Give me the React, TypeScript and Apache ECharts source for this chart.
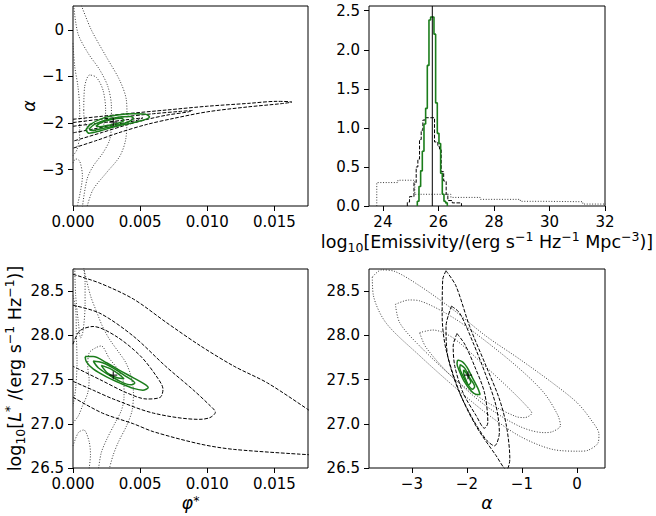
import React, { useEffect, useRef } from "react";
import * as echarts from "echarts";

const FONT = "DejaVu Sans";
const MINUS = "\u2212";

// ---------- tick values ----------
const phiTicks = [0, 0.005, 0.01, 0.015];
const alphaTicks = [-3, -2, -1, 0];
const lumTicks = [26.5, 27.0, 27.5, 28.0, 28.5];
const emisTicks = [24, 26, 28, 30, 32];
const densTicks = [0, 0.5, 1.0, 1.5, 2.0, 2.5];

// ---------- best-fit values ----------
const bestPhi = 0.003;
const bestAlpha = -1.98;
const bestLogL = 27.55;
const bestEmissivity = 25.78;

// ---------- histogram (top right) ----------
const dottedEdges = [23.78, 24.54, 25.15, 26.45, 27.5, 28.95, 29.75, 31.2, 32.6];
const dottedHeights = [0.3, 0.33, 0.15, 0.11, 0.085, 0.06, 0.055, 0.025];
const dashedEdges = [24.88, 24.96, 25.12, 25.2, 25.26, 25.32, 25.38, 25.44, 25.52, 25.86, 25.98, 26.04, 26.1, 26.19, 26.28, 26.34, 26.5, 26.83];
const dashedHeights = [0.05, 0.12, 0.3, 0.5, 0.6, 0.85, 0.97, 1.1, 1.13, 0.82, 0.76, 0.72, 0.44, 0.32, 0.15, 0.07, 0.04];
const greenEdges = [25.24, 25.3, 25.36, 25.42, 25.48, 25.54, 25.6, 25.66, 25.72, 25.78, 25.84, 25.9, 25.96, 26.02, 26.08, 26.14, 26.2, 26.26, 26.32];
const greenHeights = [0.06, 0.25, 0.45, 0.7, 1.05, 1.25, 1.8, 2.38, 2.42, 2.42, 2.2, 1.32, 0.93, 0.8, 0.42, 0.15, 0.06, 0.04];

// ---------- top left: phi* vs alpha ----------
const tlDot1 = [[0.000625, 0.52], [0.00137, -0.006], [0.00248, -0.58], [0.00347, -1.08], [0.00397, -1.5], [0.00402, -1.86], [0.00392, -2.36], [0.00347, -2.72], [0.00248, -3.07], [0.00149, -3.43], [0.00104, -3.8]];
const tlDot2 = [[0.00005, 0.52], [0.00037, -0.08], [0.00112, -0.5], [0.00199, -0.86], [0.0026, -1.22], [0.00286, -1.65], [0.00286, -2.0], [0.00273, -2.36], [0.00223, -2.64], [0.00149, -2.93], [0.00104, -3.21], [0.0007, -3.8]];
const tlDot3 = [[0.0008, -1.72], [0.00087, -1.22], [0.00124, -0.97], [0.00174, -1.02], [0.00223, -1.29], [0.00243, -1.72], [0.00223, -2.07], [0.00149, -2.17], [0.0009, -2.0], [0.0008, -1.72]];
const tlDot4 = [[0, -0.29], [0.00013, -0.79], [0.00037, -1.22], [0.0005, -1.72], [0.0005, -2.22], [0.0003, -2.57], [0, -2.7]];
const tlDot5 = [[0, -2.86], [0.0002, -2.77], [0.0005, -2.82], [0.0007, -3.14], [0.0003, -3.8]];
const tlDashOuter = [[0, -1.92], [0.002, -1.86], [0.004, -1.8], [0.007, -1.72], [0.01, -1.64], [0.013, -1.58], [0.0152, -1.535], [0.0163, -1.55], [0.0155, -1.585], [0.013, -1.655], [0.01, -1.76], [0.0075, -1.9], [0.0055, -2.03], [0.0035, -2.2], [0.0018, -2.37], [0, -2.54]];
const tlDashMid = [[0, -1.99], [0.002, -1.92], [0.004, -1.86], [0.006, -1.8], [0.008, -1.75], [0.0089, -1.73], [0.0086, -1.76], [0.007, -1.83], [0.0057, -1.91], [0.004, -2.04], [0.0022, -2.2], [0, -2.39]];
const tlDashInner = [[0, -2.07], [0.002, -2.0], [0.004, -1.93], [0.0052, -1.89], [0.0048, -1.94], [0.003, -2.04], [0.0015, -2.13], [0, -2.21]];
const tlGreenOuter = [[0.00095, -2.15], [0.0013, -2.03], [0.0022, -1.9], [0.0033, -1.83], [0.0045, -1.8], [0.0054, -1.81], [0.0057, -1.87], [0.0052, -1.94], [0.0042, -2.01], [0.0031, -2.08], [0.002, -2.17], [0.0012, -2.22], [0.00095, -2.15]];
const tlGreenMid = [[0.0012, -2.13], [0.0016, -2.03], [0.0025, -1.93], [0.0035, -1.87], [0.0043, -1.86], [0.0045, -1.9], [0.004, -1.99], [0.003, -2.07], [0.002, -2.13], [0.0014, -2.16], [0.0012, -2.13]];
const tlGreenInner = [[0.0017, -2.07], [0.0021, -1.99], [0.0028, -1.93], [0.0036, -1.9], [0.0038, -1.94], [0.0034, -2.0], [0.0026, -2.05], [0.002, -2.08], [0.0017, -2.07]];

// ---------- bottom left: phi* vs log L* ----------
const blDot1 = [[0.00013, 28.76], [0.0002, 28.45], [0.0004, 28.15], [0.00057, 27.97], [0.00075, 28.05], [0.0009, 28.35], [0.0009, 28.6], [0.0008, 28.76]];
const blDot2 = [[0, 28.45], [0.0002, 28.3], [0.00025, 28.0], [0.0003, 27.7], [0.0002, 27.4], [0, 27.2]];
const blDot3 = [[0, 27.01], [0.0004, 27.09], [0.0007, 27.2], [0.0011, 27.35], [0.0012, 27.5], [0.0011, 27.65], [0.0012, 27.8], [0.0017, 27.86], [0.0021, 27.88], [0.0027, 27.74], [0.0034, 27.6], [0.0038, 27.43], [0.0038, 27.3], [0.0036, 27.15], [0.0031, 27.0], [0.0025, 26.82], [0.0021, 26.67], [0.0019, 26.49]];
const blDot4 = [[0, 26.75], [0.0004, 26.9], [0.0008, 26.93], [0.0012, 26.8], [0.0013, 26.65], [0.0012, 26.49]];
const blDot5 = [[0.0008, 28.76], [0.0013, 28.45], [0.0018, 28.25], [0.0022, 28.1], [0.0027, 27.96], [0.0034, 27.81], [0.0039, 27.7], [0.0043, 27.55], [0.0045, 27.35], [0.0044, 27.15], [0.004, 26.98], [0.0034, 26.8], [0.003, 26.65], [0.0027, 26.49]];
const blDashOuterUpper = [[0, 28.69], [0.002, 28.59], [0.0045, 28.41], [0.007, 28.14], [0.0095, 27.88], [0.012, 27.65], [0.0145, 27.46], [0.0176, 27.15]];
const blDashOuterLower = [[0, 27.3], [0.0022, 27.12], [0.0045, 27.0], [0.006, 26.91], [0.0095, 26.77], [0.012, 26.71], [0.0176, 26.65]];
const blDashMid = [[0, 28.34], [0.002, 28.25], [0.0045, 27.99], [0.0069, 27.65], [0.0089, 27.39], [0.0101, 27.22], [0.0106, 27.13], [0.0102, 27.07], [0.0094, 27.05], [0.006, 27.12], [0.003, 27.28], [0.0015, 27.38], [0, 27.48]];
const blDashInner = [[0, 27.9], [0.0005, 28.05], [0.0015, 28.1], [0.0032, 27.99], [0.005, 27.77], [0.0062, 27.54], [0.0067, 27.39], [0.0065, 27.3], [0.0055, 27.28], [0.004, 27.35], [0.002, 27.5], [0, 27.65]];
const blGreenOuter = [[0.0009, 27.76], [0.0015, 27.76], [0.0025, 27.69], [0.0035, 27.6], [0.0045, 27.52], [0.0053, 27.45], [0.0056, 27.41], [0.0052, 27.38], [0.0045, 27.4], [0.0035, 27.46], [0.0025, 27.53], [0.0015, 27.62], [0.001, 27.7], [0.0009, 27.76]];
const blGreenMid = [[0.0015, 27.71], [0.0022, 27.69], [0.003, 27.63], [0.0038, 27.55], [0.0046, 27.46], [0.0043, 27.44], [0.0035, 27.48], [0.0027, 27.55], [0.0019, 27.63], [0.0015, 27.71]];
const blGreenInner = [[0.0021, 27.66], [0.0028, 27.62], [0.0035, 27.55], [0.0038, 27.51], [0.0033, 27.52], [0.0026, 27.57], [0.0021, 27.66]];

// ---------- bottom right: alpha vs log L* ----------
const brDotOuter = [[-3.72, 28.66], [-3.55, 28.74], [-3.3, 28.72], [-2.86, 28.56], [-2.25, 28.29], [-1.65, 27.99], [-1.04, 27.73], [-0.44, 27.46], [0.0, 27.24], [0.25, 27.05], [0.4, 26.88], [0.38, 26.78], [0.2, 26.7], [0.05, 26.69], [-0.44, 26.71], [-1.04, 26.86], [-1.65, 27.12], [-2.25, 27.43], [-2.86, 27.77], [-3.47, 28.14], [-3.7, 28.45], [-3.72, 28.66]];
const brDotMid = [[-3.3, 28.35], [-3.05, 28.4], [-2.86, 28.39], [-2.25, 28.2], [-1.65, 27.93], [-1.04, 27.62], [-0.6, 27.35], [-0.35, 27.1], [-0.3, 26.98], [-0.45, 26.91], [-0.6, 26.9], [-1.04, 26.97], [-1.65, 27.2], [-2.25, 27.52], [-2.86, 27.88], [-3.22, 28.14], [-3.3, 28.35]];
const brDotInner = [[-2.86, 28.03], [-2.62, 28.06], [-2.25, 27.97], [-1.65, 27.64], [-1.2, 27.38], [-0.9, 27.19], [-0.82, 27.12], [-0.95, 27.07], [-1.1, 27.08], [-1.65, 27.25], [-2.25, 27.52], [-2.74, 27.86], [-2.86, 28.03]];
const brDashOuter = [[-2.38, 28.73], [-2.44, 28.63], [-2.45, 28.22], [-2.38, 27.84], [-2.13, 27.35], [-1.83, 26.97], [-1.47, 26.64], [-1.28, 26.48], [-1.22, 26.6], [-1.28, 26.97], [-1.41, 27.28], [-1.65, 27.65], [-1.95, 28.1], [-2.2, 28.56], [-2.38, 28.73]];
const brDashMid = [[-2.28, 28.33], [-2.38, 28.1], [-2.35, 27.77], [-2.16, 27.39], [-1.89, 27.05], [-1.65, 26.82], [-1.5, 26.75], [-1.41, 26.9], [-1.47, 27.2], [-1.65, 27.54], [-1.89, 27.92], [-2.13, 28.25], [-2.28, 28.33]];
const brDashInner = [[-2.18, 28.02], [-2.25, 27.88], [-2.22, 27.65], [-2.07, 27.35], [-1.83, 27.09], [-1.68, 26.95], [-1.62, 27.01], [-1.68, 27.35], [-1.86, 27.65], [-2.04, 27.9], [-2.18, 28.02]];
const brGreenOuter = [[-2.17, 27.72], [-2.08, 27.7], [-2.0, 27.64], [-1.9, 27.52], [-1.8, 27.4], [-1.76, 27.33], [-1.82, 27.33], [-1.92, 27.37], [-2.05, 27.48], [-2.14, 27.6], [-2.18, 27.68], [-2.17, 27.72]];
const brGreenMid = [[-2.12, 27.67], [-2.04, 27.63], [-1.95, 27.52], [-1.86, 27.42], [-1.9, 27.39], [-1.99, 27.45], [-2.08, 27.55], [-2.13, 27.63], [-2.12, 27.67]];
const brGreenInner = [[-2.06, 27.61], [-2.0, 27.56], [-1.93, 27.47], [-1.97, 27.44], [-2.02, 27.5], [-2.06, 27.57], [-2.06, 27.61]];

// ---------- styles ----------
const DOT = { color: "#3a3a3a", width: 1, type: [1, 1.7] as number[] };
const DASH = { color: "#000", width: 1, type: [3.7, 1.6] as number[] };
const GREEN = { color: "#1b7d1b", width: 1.5, type: "solid" };

function line(data: number[][], g: number, style: any, z: number, smooth: number | boolean = 0.3) {
  return {
    type: "line",
    xAxisIndex: g,
    yAxisIndex: g,
    data,
    symbol: "none",
    showSymbol: false,
    smooth,
    silent: true,
    clip: true,
    z,
    lineStyle: style,
  };
}

function stepPoints(edges: number[], heights: number[]) {
  const pts: number[][] = [[edges[0], 0]];
  heights.forEach((h, i) => {
    pts.push([edges[i], h]);
    pts.push([edges[i + 1], h]);
  });
  pts.push([edges[edges.length - 1], 0]);
  return pts;
}

function plus(x: number, y: number, g: number) {
  return {
    type: "scatter",
    xAxisIndex: g,
    yAxisIndex: g,
    data: [[x, y]],
    symbol: "path://M5,0L5,10M0,5L10,5",
    symbolSize: 8,
    silent: true,
    z: 10,
    itemStyle: { color: "rgba(0,0,0,0)", borderColor: "#000", borderWidth: 1.3 },
  };
}

const fmtPhi = (v: number) => v.toFixed(3);
const fmtAlpha = (v: number) => (v < 0 ? MINUS + Math.abs(v) : String(v));
const fmt1 = (v: number) => v.toFixed(1);
const fmtInt = (v: number) => String(v);

const NAME_FS = 17.5;
const SUP_FS = 12.5;
const rich = {
  n: { fontFamily: FONT, fontSize: NAME_FS, color: "#000", lineHeight: 24 },
  i: { fontFamily: FONT, fontSize: NAME_FS, fontStyle: "italic", color: "#000", lineHeight: 24 },
  sup: { fontFamily: FONT, fontSize: SUP_FS, color: "#000", lineHeight: 14, verticalAlign: "top" },
  sub: { fontFamily: FONT, fontSize: SUP_FS, color: "#000", lineHeight: 14, verticalAlign: "bottom" },
};
const richShort = {
  i: { fontFamily: FONT, fontSize: NAME_FS, fontStyle: "italic", color: "#000", lineHeight: 18 },
  sup: { fontFamily: FONT, fontSize: SUP_FS, color: "#000", lineHeight: 10, verticalAlign: "top" },
};

function axis(gridIndex: number, min: number, max: number, ticks: number[], fmt: (v: number) => string, margin: number, extra: any = {}) {
  return {
    type: "value",
    gridIndex,
    min,
    max,
    axisLine: { show: false, onZero: false },
    splitLine: { show: false },
    axisTick: { show: true, length: 5, customValues: ticks, lineStyle: { color: "#000", width: 1 } },
    axisLabel: { customValues: ticks, formatter: fmt, color: "#000", fontSize: 15, fontFamily: FONT, margin },
    nameTextStyle: { rich, fontFamily: FONT, color: "#000" },
    ...extra,
  };
}

const gridBase = { show: true, borderColor: "#000", borderWidth: 1, backgroundColor: "transparent", containLabel: false };

export default function App() {
  const ref = useRef<HTMLDivElement>(null);
  useEffect(() => {
    document.body.style.margin = "0";
    if (!ref.current) return;
    const chart = echarts.init(ref.current, undefined, { renderer: "svg" });
    const option = {
      animation: false,
      backgroundColor: "#fff",
      grid: [
        { ...gridBase, left: 73, top: 6, width: 235, height: 200 },
        { ...gridBase, left: 369, top: 6, width: 236, height: 200 },
        { ...gridBase, left: 73, top: 269, width: 235, height: 199 },
        { ...gridBase, left: 369, top: 269, width: 236, height: 199 },
      ],
      xAxis: [
        axis(0, 0, 0.0175, phiTicks, fmtPhi, 8),
        axis(1, 23.5, 32, emisTicks, fmtInt, 8, {
          name: "{n|log}{sub|10}{n|[Emissivity/(erg s}{sup|" + MINUS + "1}{n| Hz}{sup|" + MINUS + "1}{n| Mpc}{sup|" + MINUS + "3}{n|)]}",
          nameLocation: "middle",
          nameGap: 19,
        }),
        axis(2, 0, 0.0175, phiTicks, fmtPhi, 8, {
          name: "{i|φ}{sup|*}",
          nameLocation: "middle",
          nameGap: 26,
          nameTextStyle: { rich: richShort, fontFamily: FONT, color: "#000" },
        }),
        axis(3, -3.78, 0.51, alphaTicks, fmtAlpha, 8, {
          name: "{i|α}",
          nameLocation: "middle",
          nameGap: 26,
          nameTextStyle: { rich: richShort, fontFamily: FONT, color: "#000" },
        }),
      ],
      yAxis: [
        axis(0, -3.78, 0.51, alphaTicks, fmtAlpha, 9, {
          name: "{i|α}",
          nameLocation: "middle",
          nameGap: 31,
          nameRotate: 90,
        }),
        axis(1, 0, 2.56, densTicks, fmt1, 9),
        axis(2, 26.5, 28.75, lumTicks, fmt1, 9, {
          name: "{n|log}{sub|10}{n|[}{i|L}{sup|*}{n| /(erg s}{sup|" + MINUS + "1}{n| Hz}{sup|" + MINUS + "1}{n|)]}",
          nameLocation: "middle",
          nameGap: 42,
          nameRotate: 90,
        }),
        axis(3, 26.5, 28.75, lumTicks, fmt1, 9),
      ],
      series: [
        // top left
        line(tlDot1, 0, DOT, 2),
        line(tlDot2, 0, DOT, 2),
        line(tlDot3, 0, DOT, 2),
        line(tlDot4, 0, DOT, 2),
        line(tlDot5, 0, DOT, 2),
        line(tlDashOuter, 0, DASH, 3),
        line(tlDashMid, 0, DASH, 3),
        line(tlDashInner, 0, DASH, 3),
        line(tlGreenOuter, 0, GREEN, 4),
        line(tlGreenMid, 0, GREEN, 4),
        line(tlGreenInner, 0, GREEN, 4),
        plus(bestPhi, bestAlpha, 0),
        // top right histogram
        line(stepPoints(dottedEdges, dottedHeights), 1, DOT, 2, false),
        line(stepPoints(dashedEdges, dashedHeights), 1, DASH, 3, false),
        line(stepPoints(greenEdges, greenHeights), 1, { ...GREEN, width: 1.6 }, 4, false),
        line([[bestEmissivity, 0], [bestEmissivity, 2.56]], 1, { color: "#000", width: 1, type: "solid" }, 5, false),
        // bottom left
        line(blDot1, 2, DOT, 2),
        line(blDot2, 2, DOT, 2),
        line(blDot3, 2, DOT, 2),
        line(blDot4, 2, DOT, 2),
        line(blDot5, 2, DOT, 2),
        line(blDashOuterUpper, 2, DASH, 3),
        line(blDashOuterLower, 2, DASH, 3),
        line(blDashMid, 2, DASH, 3),
        line(blDashInner, 2, DASH, 3),
        line(blGreenOuter, 2, GREEN, 4),
        line(blGreenMid, 2, GREEN, 4),
        line(blGreenInner, 2, GREEN, 4),
        plus(bestPhi, bestLogL, 2),
        // bottom right
        line(brDotOuter, 3, DOT, 2),
        line(brDotMid, 3, DOT, 2),
        line(brDotInner, 3, DOT, 2),
        line(brDashOuter, 3, DASH, 3),
        line(brDashMid, 3, DASH, 3),
        line(brDashInner, 3, DASH, 3),
        line(brGreenOuter, 3, GREEN, 4),
        line(brGreenMid, 3, GREEN, 4),
        line(brGreenInner, 3, GREEN, 4),
        plus(bestAlpha, bestLogL, 3),
      ],
    };
    chart.setOption(option as any);
    return () => chart.dispose();
  }, []);
  return <div ref={ref} style={{ width: 656, height: 516 }} />;
}
